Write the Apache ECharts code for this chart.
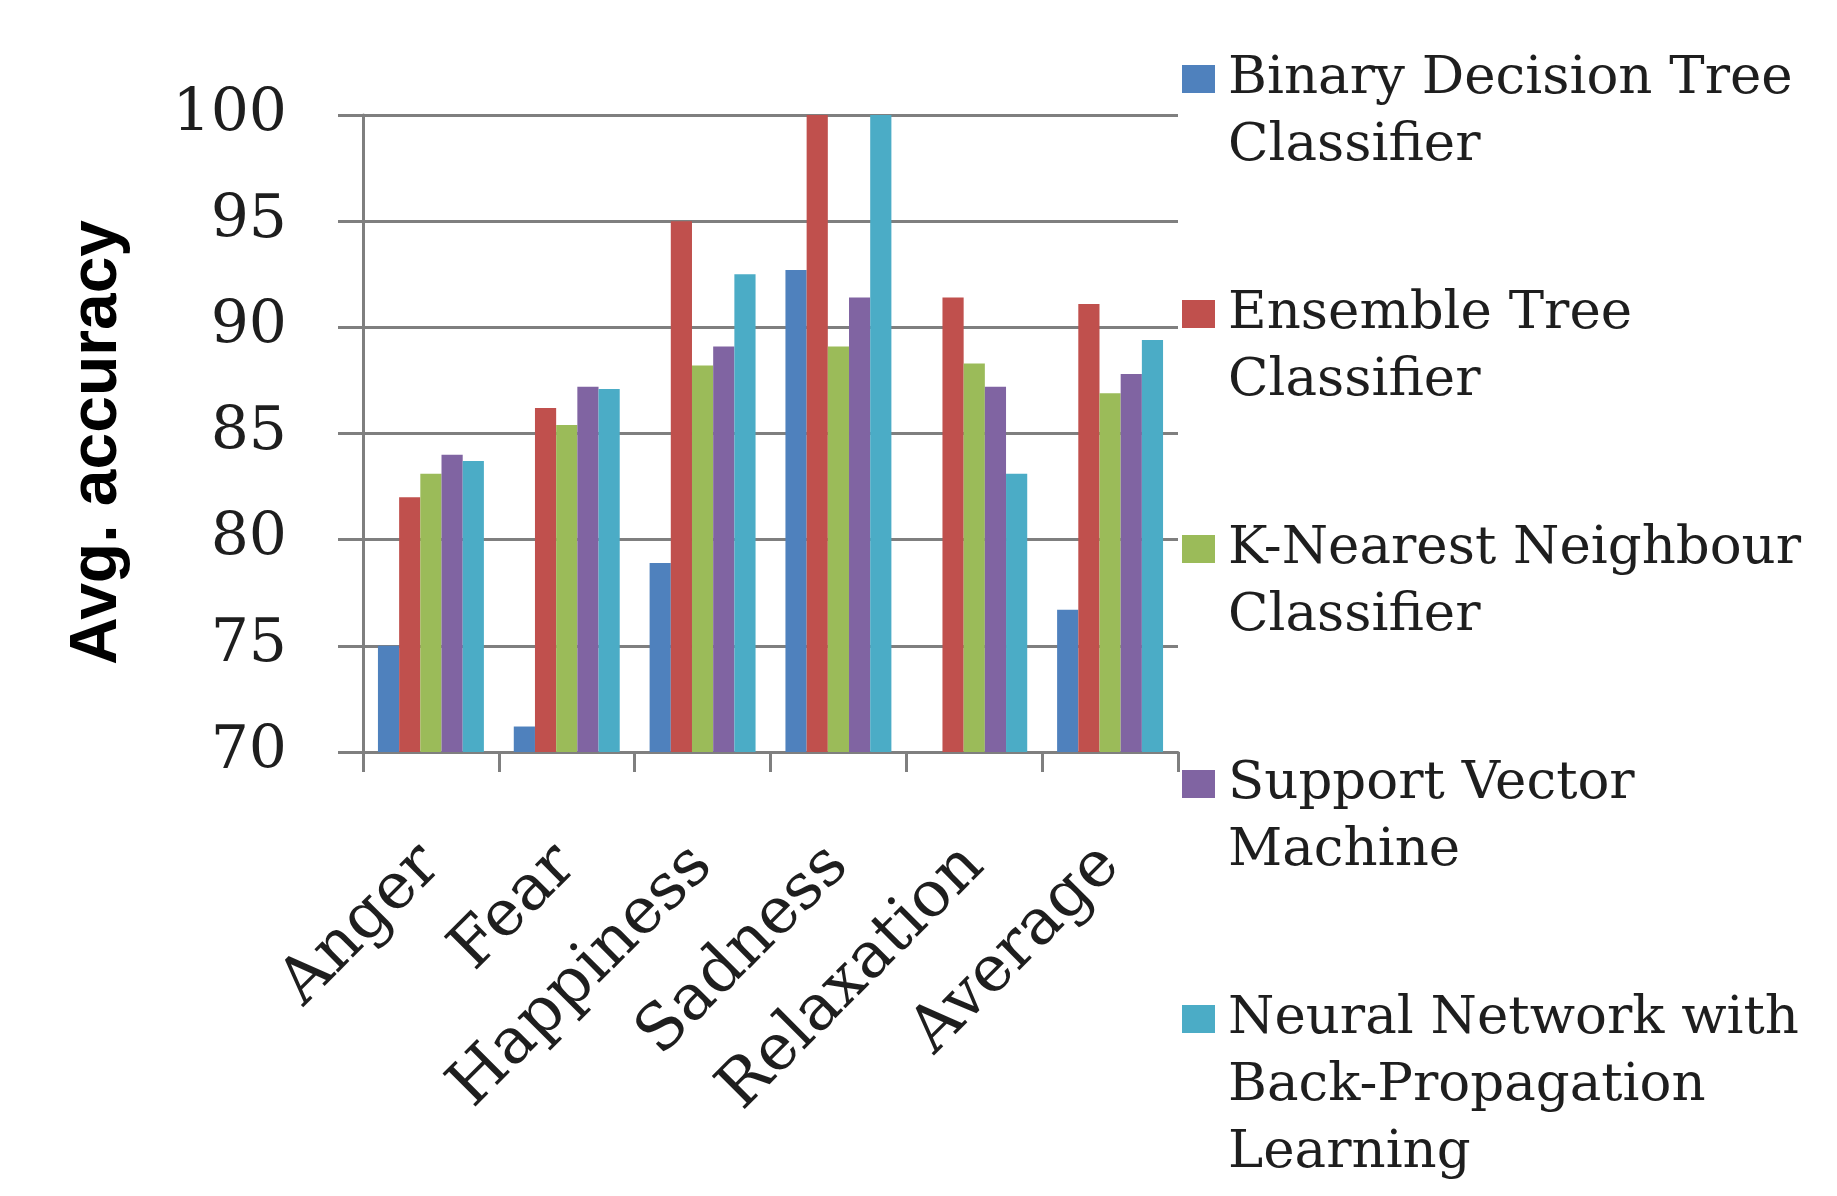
<!DOCTYPE html>
<html>
<head>
<meta charset="utf-8">
<script src="https://cdn.jsdelivr.net/npm/echarts@6/dist/echarts.min.js"></script>
<style>
html,body{margin:0;padding:0;background:#fff;}
#c{width:1837px;height:1196px;}
</style>
</head>
<body>
<div id="c"></div>
<script>
const categories = ['Anger', 'Fear', 'Happiness', 'Sadness', 'Relaxation', 'Average'];
const seriesNames = [
  'Binary Decision Tree Classifier',
  'Ensemble Tree Classifier',
  'K-Nearest Neighbour Classifier',
  'Support Vector Machine',
  'Neural Network with Back-Propagation Learning'
];
const legendLines = [
  ['Binary Decision Tree', 'Classifier'],
  ['Ensemble Tree', 'Classifier'],
  ['K-Nearest Neighbour', 'Classifier'],
  ['Support Vector', 'Machine'],
  ['Neural Network with', 'Back-Propagation', 'Learning']
];
const binaryTree = [75, 71.2, 78.9, 92.7, 65.7, 76.7];
const ensembleTree = [82, 86.2, 95, 100, 91.4, 91.1];
const knn = [83.1, 85.4, 88.2, 89.1, 88.3, 86.9];
const svm = [84, 87.2, 89.1, 91.4, 87.2, 87.8];
const neuralNet = [83.7, 87.1, 92.5, 100, 83.1, 89.4];
const yTicks = [70, 75, 80, 85, 90, 95, 100];

const colors = ['#4F81BD', '#C0504D', '#9BBB59', '#8064A2', '#4BACC6'];
const seriesData = [binaryTree, ensembleTree, knn, svm, neuralNet];
const gray = '#7f7f7f';
const serif = '"DejaVu Serif", "Liberation Serif", serif';

const legendCenters = [79, 314, 549, 784, 1019];
const lh = 67;
const legends = seriesNames.map((name, i) => {
  const lines = legendLines[i];
  const n = lines.length;
  const blank = new Array(n - 1).fill('');
  const total = 2 * n - 1;
  return {
    data: [name],
    orient: 'vertical',
    left: 1182,
    top: legendCenters[i] - (total * lh) / 2,
    padding: 0,
    itemWidth: 33,
    itemHeight: 28,
    itemGap: 0,
    icon: 'rect',
    selectedMode: false,
    formatter: () => blank.concat(lines).join('\n'),
    textStyle: {
      fontFamily: serif,
      fontSize: 53,
      lineHeight: lh,
      color: '#1e1e1e',
      padding: [0, 0, 0, 8]
    }
  };
});

const chart = echarts.init(document.getElementById('c'), null, {renderer: 'canvas'});
chart.setOption({
  backgroundColor: '#ffffff',
  animation: false,
  color: colors,
  legend: legends,
  grid: {left: 363, right: 659, top: 115, bottom: 444, containLabel: false},
  xAxis: {
    type: 'category',
    data: categories,
    boundaryGap: true,
    axisLine: {show: true, lineStyle: {color: gray, width: 3}},
    axisTick: {show: true, interval: 0, length: 20, lineStyle: {color: gray, width: 3}},
    axisLabel: {
      interval: 0,
      rotate: 45,
      margin: 104,
      fontFamily: serif,
      fontSize: 64,
      color: '#1e1e1e'
    },
    splitLine: {show: false}
  },
  yAxis: {
    type: 'value',
    min: 70,
    max: 100,
    interval: 5,
    name: 'Avg. accuracy',
    nameLocation: 'middle',
    nameGap: 232,
    nameTextStyle: {
      fontFamily: '"Liberation Sans", Arial, sans-serif',
      fontWeight: 'bold',
      fontSize: 66,
      color: '#000',
      padding: [0, 18, 0, 0]
    },
    axisLine: {show: true, lineStyle: {color: gray, width: 3}},
    axisTick: {show: true, length: 25, lineStyle: {color: gray, width: 3}},
    axisLabel: {
      margin: 76,
      fontFamily: serif,
      fontSize: 60,
      color: '#1e1e1e',
      formatter: v => (yTicks.indexOf(v) >= 0 ? String(v) : '')
    },
    splitLine: {show: true, lineStyle: {color: gray, width: 3}}
  },
  series: seriesNames.map((name, i) => ({
    name: name,
    type: 'bar',
    data: seriesData[i],
    barGap: '0%',
    barCategoryGap: '22%',
    clip: true,
    itemStyle: {color: colors[i]}
  }))
});
</script>
</body>
</html>
